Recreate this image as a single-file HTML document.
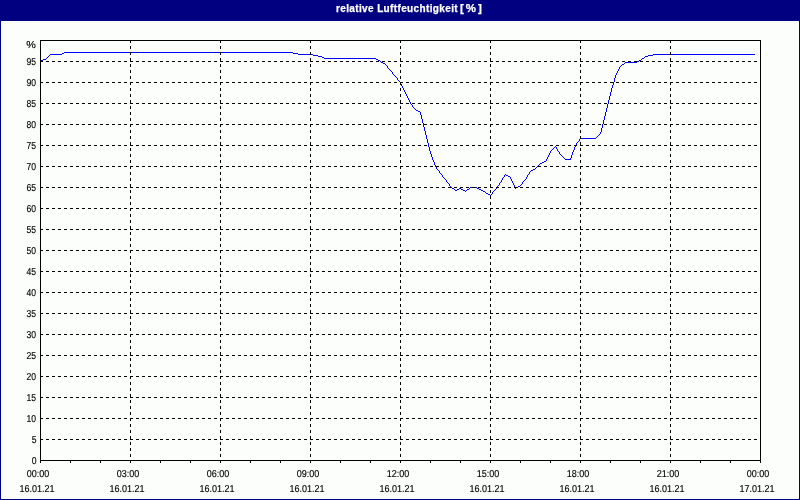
<!DOCTYPE html>
<html><head><meta charset="utf-8"><title>relative Luftfeuchtigkeit</title>
<style>
html,body{margin:0;padding:0;}
body{width:800px;height:500px;position:relative;overflow:hidden;background:#000080;font-family:"Liberation Sans",Arial,sans-serif;}
#title{position:absolute;left:0;top:0;width:800px;height:21px;background:#000080;}
#title span{position:absolute;left:336px;top:4px;color:#fff;font-weight:bold;font-size:10px;line-height:1;white-space:nowrap;letter-spacing:0.37px;-webkit-text-stroke:0.25px #fff;}
#title #t2{left:460px;letter-spacing:2px;font-size:11.5px;top:3px;}
#frame{position:absolute;left:1px;top:21px;width:798px;height:478px;background:#fff;}
#inner{position:absolute;left:2px;top:22px;width:796px;height:476px;background:#fcfefc;}
svg{position:absolute;left:0;top:0;}
.yl,.xl{position:absolute;font-size:10px;line-height:1;color:#000;letter-spacing:0px;white-space:nowrap;text-rendering:geometricPrecision;-webkit-text-stroke:0.15px #000;}
.yl{right:763.6px;margin-top:0px;transform:scaleX(0.86);transform-origin:100% 0;}
.xl{width:80px;text-align:center;transform:scaleX(0.9);transform-origin:50% 0;}
.xl.t{top:470px;margin-left:-2px;}
.xl.d{top:485px;margin-left:-3px;}
</style></head><body>
<div id="title"><span>relative Luftfeuchtigkeit</span><span id="t2">[%]</span></div>
<div id="frame"></div>
<div id="inner"></div>
<svg width="800" height="500" viewBox="0 0 800 500" shape-rendering="crispEdges">
<path fill="#0000ff" d="M64 52h229v1h-229zM62 53h2v1h-2zM293 53h5v1h-5zM50 54h12v1h-12zM298 54h15v1h-15zM653 54h102v1h-102zM49 55h1v1h-1zM313 55h5v1h-5zM648 55h5v1h-5zM48 56h1v1h-1zM318 56h4v1h-4zM645 56h3v1h-3zM47 57h1v1h-1zM322 57h2v1h-2zM644 57h1v1h-1zM46 58h1v1h-1zM324 58h52v1h-52zM642 58h2v1h-2zM43 59h3v1h-3zM376 59h2v1h-2zM641 59h1v1h-1zM40 60h3v1h-3zM378 60h2v1h-2zM639 60h2v1h-2zM380 61h1v1h-1zM637 61h2v1h-2zM381 62h2v1h-2zM625 62h12v1h-12zM383 63h2v1h-2zM624 63h1v1h-1zM385 64h1v1h-1zM622 64h2v1h-2zM386 65h1v1h-1zM621 65h1v1h-1zM387 66h1v1h-1zM620 66h1v1h-1zM387 67h1v1h-1zM619 67h1v1h-1zM388 68h1v1h-1zM619 68h1v1h-1zM389 69h1v1h-1zM618 69h1v1h-1zM390 70h1v1h-1zM618 70h1v1h-1zM391 71h1v1h-1zM617 71h1v1h-1zM392 72h1v1h-1zM617 72h1v1h-1zM392 73h1v1h-1zM616 73h1v1h-1zM393 74h1v1h-1zM616 74h1v1h-1zM394 75h1v1h-1zM615 75h1v1h-1zM395 76h1v1h-1zM615 76h1v1h-1zM396 77h1v1h-1zM615 77h1v1h-1zM397 78h1v1h-1zM614 78h1v1h-1zM397 79h1v1h-1zM614 79h1v1h-1zM398 80h1v1h-1zM614 80h1v1h-1zM399 81h1v1h-1zM614 81h1v1h-1zM400 82h1v1h-1zM613 82h1v1h-1zM400 83h1v1h-1zM613 83h1v1h-1zM401 84h1v1h-1zM613 84h1v1h-1zM401 85h1v1h-1zM612 85h1v1h-1zM402 86h1v1h-1zM612 86h1v1h-1zM402 87h1v1h-1zM612 87h1v1h-1zM403 88h1v1h-1zM611 88h1v1h-1zM403 89h1v1h-1zM611 89h1v1h-1zM404 90h1v1h-1zM611 90h1v1h-1zM404 91h1v1h-1zM611 91h1v1h-1zM405 92h1v1h-1zM610 92h1v1h-1zM405 93h1v1h-1zM610 93h1v1h-1zM406 94h1v1h-1zM610 94h1v1h-1zM406 95h1v1h-1zM610 95h1v1h-1zM407 96h1v1h-1zM609 96h1v1h-1zM407 97h1v1h-1zM609 97h1v1h-1zM408 98h1v1h-1zM609 98h1v1h-1zM408 99h1v1h-1zM609 99h1v1h-1zM409 100h1v1h-1zM608 100h1v1h-1zM409 101h1v1h-1zM608 101h1v1h-1zM410 102h1v1h-1zM608 102h1v1h-1zM410 103h1v1h-1zM608 103h1v1h-1zM411 104h1v1h-1zM607 104h1v1h-1zM412 105h1v1h-1zM607 105h1v1h-1zM412 106h1v1h-1zM607 106h1v1h-1zM413 107h1v1h-1zM607 107h1v1h-1zM414 108h1v1h-1zM606 108h1v1h-1zM415 109h1v1h-1zM606 109h1v1h-1zM416 110h2v1h-2zM606 110h1v1h-1zM418 111h2v1h-2zM606 111h1v1h-1zM420 112h1v1h-1zM605 112h1v1h-1zM420 113h1v1h-1zM605 113h1v1h-1zM420 114h1v1h-1zM605 114h1v1h-1zM421 115h1v1h-1zM605 115h1v1h-1zM421 116h1v1h-1zM604 116h1v1h-1zM421 117h1v1h-1zM604 117h1v1h-1zM421 118h1v1h-1zM604 118h1v1h-1zM422 119h1v1h-1zM604 119h1v1h-1zM422 120h1v1h-1zM603 120h1v1h-1zM422 121h1v1h-1zM603 121h1v1h-1zM422 122h1v1h-1zM603 122h1v1h-1zM423 123h1v1h-1zM603 123h1v1h-1zM423 124h1v1h-1zM602 124h1v1h-1zM423 125h1v1h-1zM602 125h1v1h-1zM423 126h1v1h-1zM602 126h1v1h-1zM424 127h1v1h-1zM602 127h1v1h-1zM424 128h1v1h-1zM601 128h1v1h-1zM424 129h1v1h-1zM601 129h1v1h-1zM424 130h1v1h-1zM601 130h1v1h-1zM425 131h1v1h-1zM601 131h1v1h-1zM425 132h1v1h-1zM600 132h1v1h-1zM425 133h1v1h-1zM600 133h1v1h-1zM425 134h1v1h-1zM599 134h1v1h-1zM426 135h1v1h-1zM598 135h1v1h-1zM426 136h1v1h-1zM597 136h1v1h-1zM426 137h1v1h-1zM596 137h1v1h-1zM426 138h1v1h-1zM580 138h16v1h-16zM427 139h1v1h-1zM579 139h1v1h-1zM427 140h1v1h-1zM579 140h1v1h-1zM427 141h1v1h-1zM578 141h1v1h-1zM427 142h1v1h-1zM577 142h1v1h-1zM428 143h1v1h-1zM576 143h1v1h-1zM428 144h1v1h-1zM576 144h1v1h-1zM428 145h1v1h-1zM575 145h1v1h-1zM428 146h1v1h-1zM555 146h1v1h-1zM575 146h1v1h-1zM429 147h1v1h-1zM554 147h1v1h-1zM556 147h1v1h-1zM574 147h1v1h-1zM429 148h1v1h-1zM553 148h1v1h-1zM556 148h1v1h-1zM574 148h1v1h-1zM429 149h1v1h-1zM552 149h1v1h-1zM557 149h1v1h-1zM574 149h1v1h-1zM429 150h1v1h-1zM551 150h1v1h-1zM557 150h1v1h-1zM573 150h1v1h-1zM430 151h1v1h-1zM550 151h1v1h-1zM558 151h1v1h-1zM573 151h1v1h-1zM430 152h1v1h-1zM550 152h1v1h-1zM559 152h1v1h-1zM572 152h1v1h-1zM430 153h1v1h-1zM549 153h1v1h-1zM559 153h1v1h-1zM572 153h1v1h-1zM431 154h1v1h-1zM549 154h1v1h-1zM560 154h1v1h-1zM572 154h1v1h-1zM431 155h1v1h-1zM548 155h1v1h-1zM561 155h1v1h-1zM571 155h1v1h-1zM431 156h1v1h-1zM548 156h1v1h-1zM562 156h1v1h-1zM571 156h1v1h-1zM432 157h1v1h-1zM547 157h1v1h-1zM563 157h1v1h-1zM571 157h1v1h-1zM432 158h1v1h-1zM547 158h1v1h-1zM564 158h1v1h-1zM570 158h1v1h-1zM432 159h1v1h-1zM546 159h1v1h-1zM565 159h6v1h-6zM433 160h1v1h-1zM546 160h1v1h-1zM433 161h1v1h-1zM544 161h2v1h-2zM434 162h1v1h-1zM542 162h2v1h-2zM434 163h1v1h-1zM540 163h2v1h-2zM434 164h1v1h-1zM539 164h1v1h-1zM435 165h1v1h-1zM538 165h1v1h-1zM435 166h1v1h-1zM537 166h1v1h-1zM436 167h1v1h-1zM536 167h1v1h-1zM436 168h1v1h-1zM535 168h1v1h-1zM437 169h1v1h-1zM533 169h2v1h-2zM438 170h1v1h-1zM531 170h2v1h-2zM439 171h1v1h-1zM530 171h1v1h-1zM439 172h1v1h-1zM529 172h1v1h-1zM440 173h1v1h-1zM529 173h1v1h-1zM441 174h1v1h-1zM505 174h1v1h-1zM528 174h1v1h-1zM442 175h1v1h-1zM504 175h1v1h-1zM506 175h2v1h-2zM527 175h1v1h-1zM442 176h1v1h-1zM504 176h1v1h-1zM508 176h2v1h-2zM527 176h1v1h-1zM443 177h1v1h-1zM503 177h1v1h-1zM510 177h1v1h-1zM526 177h1v1h-1zM444 178h1v1h-1zM502 178h1v1h-1zM510 178h1v1h-1zM526 178h1v1h-1zM445 179h1v1h-1zM502 179h1v1h-1zM511 179h1v1h-1zM525 179h1v1h-1zM446 180h1v1h-1zM501 180h1v1h-1zM511 180h1v1h-1zM524 180h1v1h-1zM446 181h1v1h-1zM501 181h1v1h-1zM512 181h1v1h-1zM523 181h1v1h-1zM447 182h1v1h-1zM500 182h1v1h-1zM512 182h1v1h-1zM522 182h1v1h-1zM448 183h1v1h-1zM499 183h1v1h-1zM513 183h1v1h-1zM522 183h1v1h-1zM449 184h1v1h-1zM499 184h1v1h-1zM513 184h1v1h-1zM521 184h1v1h-1zM449 185h1v1h-1zM498 185h1v1h-1zM514 185h1v1h-1zM520 185h1v1h-1zM450 186h1v1h-1zM497 186h1v1h-1zM514 186h1v1h-1zM518 186h2v1h-2zM451 187h1v1h-1zM470 187h7v1h-7zM496 187h1v1h-1zM515 187h3v1h-3zM452 188h2v1h-2zM459 188h2v1h-2zM469 188h1v1h-1zM477 188h2v1h-2zM496 188h1v1h-1zM515 188h1v1h-1zM454 189h1v1h-1zM457 189h2v1h-2zM461 189h2v1h-2zM467 189h2v1h-2zM479 189h2v1h-2zM495 189h1v1h-1zM455 190h2v1h-2zM463 190h2v1h-2zM466 190h1v1h-1zM481 190h2v1h-2zM494 190h1v1h-1zM465 191h1v1h-1zM483 191h2v1h-2zM493 191h1v1h-1zM485 192h1v1h-1zM492 192h1v1h-1zM486 193h2v1h-2zM492 193h1v1h-1zM488 194h2v1h-2zM491 194h1v1h-1zM490 195h1v1h-1z"/>
<g stroke="#000" stroke-width="1" stroke-dasharray="3 3" fill="none"><line x1="40" y1="439.5" x2="760" y2="439.5"/><line x1="40" y1="418.5" x2="760" y2="418.5"/><line x1="40" y1="397.5" x2="760" y2="397.5"/><line x1="40" y1="376.5" x2="760" y2="376.5"/><line x1="40" y1="355.5" x2="760" y2="355.5"/><line x1="40" y1="334.5" x2="760" y2="334.5"/><line x1="40" y1="313.5" x2="760" y2="313.5"/><line x1="40" y1="292.5" x2="760" y2="292.5"/><line x1="40" y1="271.5" x2="760" y2="271.5"/><line x1="40" y1="250.5" x2="760" y2="250.5"/><line x1="40" y1="229.5" x2="760" y2="229.5"/><line x1="40" y1="208.5" x2="760" y2="208.5"/><line x1="40" y1="187.5" x2="760" y2="187.5"/><line x1="40" y1="166.5" x2="760" y2="166.5"/><line x1="40" y1="145.5" x2="760" y2="145.5"/><line x1="40" y1="124.5" x2="760" y2="124.5"/><line x1="40" y1="103.5" x2="760" y2="103.5"/><line x1="40" y1="82.5" x2="760" y2="82.5"/><line x1="40" y1="61.5" x2="760" y2="61.5"/><line x1="130.5" y1="40" x2="130.5" y2="460"/><line x1="220.5" y1="40" x2="220.5" y2="460"/><line x1="310.5" y1="40" x2="310.5" y2="460"/><line x1="400.5" y1="40" x2="400.5" y2="460"/><line x1="490.5" y1="40" x2="490.5" y2="460"/><line x1="580.5" y1="40" x2="580.5" y2="460"/><line x1="670.5" y1="40" x2="670.5" y2="460"/></g>
<rect x="40.5" y="40.5" width="720" height="420" fill="none" stroke="#000" stroke-width="1"/>
<path fill="#000" d="M40 461h1v2h-1zM70 461h1v2h-1zM100 461h1v2h-1zM130 461h1v2h-1zM160 461h1v2h-1zM190 461h1v2h-1zM220 461h1v2h-1zM250 461h1v2h-1zM280 461h1v2h-1zM310 461h1v2h-1zM340 461h1v2h-1zM370 461h1v2h-1zM400 461h1v2h-1zM430 461h1v2h-1zM460 461h1v2h-1zM490 461h1v2h-1zM520 461h1v2h-1zM550 461h1v2h-1zM580 461h1v2h-1zM610 461h1v2h-1zM640 461h1v2h-1zM670 461h1v2h-1zM700 461h1v2h-1zM730 461h1v2h-1zM760 461h1v2h-1z"/>
</svg>
<div class="yl" style="top:457px">0</div><div class="yl" style="top:436px">5</div><div class="yl" style="top:415px">10</div><div class="yl" style="top:394px">15</div><div class="yl" style="top:373px">20</div><div class="yl" style="top:352px">25</div><div class="yl" style="top:331px">30</div><div class="yl" style="top:310px">35</div><div class="yl" style="top:289px">40</div><div class="yl" style="top:268px">45</div><div class="yl" style="top:247px">50</div><div class="yl" style="top:226px">55</div><div class="yl" style="top:205px">60</div><div class="yl" style="top:184px">65</div><div class="yl" style="top:163px">70</div><div class="yl" style="top:142px">75</div><div class="yl" style="top:121px">80</div><div class="yl" style="top:100px">85</div><div class="yl" style="top:79px">90</div><div class="yl" style="top:58px">95</div><div class="yl" style="top:41px;right:764px;transform:scaleX(1.08)">%</div>
<div class="xl t" style="left:0px">00:00</div><div class="xl d" style="left:0px">16.01.21</div><div class="xl t" style="left:90px">03:00</div><div class="xl d" style="left:90px">16.01.21</div><div class="xl t" style="left:180px">06:00</div><div class="xl d" style="left:180px">16.01.21</div><div class="xl t" style="left:270px">09:00</div><div class="xl d" style="left:270px">16.01.21</div><div class="xl t" style="left:360px">12:00</div><div class="xl d" style="left:360px">16.01.21</div><div class="xl t" style="left:450px">15:00</div><div class="xl d" style="left:450px">16.01.21</div><div class="xl t" style="left:540px">18:00</div><div class="xl d" style="left:540px">16.01.21</div><div class="xl t" style="left:630px">21:00</div><div class="xl d" style="left:630px">16.01.21</div><div class="xl t" style="left:720px">00:00</div><div class="xl d" style="left:720px">17.01.21</div>
</body></html>
